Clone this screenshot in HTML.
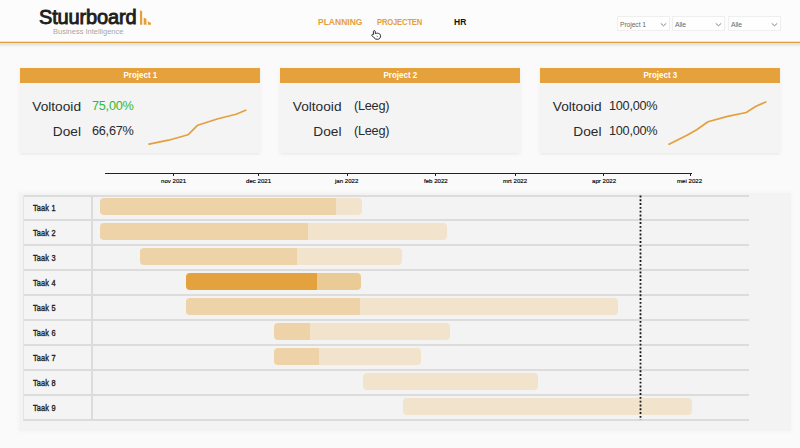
<!DOCTYPE html>
<html><head><meta charset="utf-8">
<style>
*{margin:0;padding:0;box-sizing:border-box}
html,body{width:800px;height:448px;overflow:hidden;background:#fafafa;font-family:"Liberation Sans",sans-serif;position:relative}
.a{position:absolute;white-space:nowrap}
#hdr{position:absolute;left:0;top:0;width:800px;height:42px;background:#fcfcfc}
#hline{position:absolute;left:0;top:42px;width:800px;height:1px;background:#e3a03c;box-shadow:0 -0.5px 0 #eec48a,0 0.6px 0 #e8b468}
#hshadow{position:absolute;left:0;top:43px;width:800px;height:4px;background:linear-gradient(#e2e4e8,#e8e9ec 50%,#fafafa)}
.nav{font-weight:bold;font-size:8.5px;top:16.5px}
.dd{position:absolute;top:16px;height:15px;border:1px solid #efefef;background:#fefefe}
.dd span{position:absolute;left:2px;top:4px;font-size:6.8px;color:#6a6a6a;letter-spacing:-0.1px}
.dd svg{position:absolute;top:5px}
.card{position:absolute;top:68px;width:240px;height:85px;background:#f4f4f4;box-shadow:0 1px 3px rgba(0,0,0,0.08)}
.ch{position:absolute;left:0;top:0;width:240px;height:15px;background:#e5a13b;color:#fff;font-weight:bold;font-size:8.7px;text-align:center;line-height:15px}
.ch span{display:inline-block;transform:scaleX(0.92)}
.lbl{font-size:13.7px;color:#2a2a2a}
.val{font-size:12.7px;color:#2a2a2a;letter-spacing:-0.25px}
#panel{position:absolute;left:19px;top:193px;width:772px;height:238px;background:#f3f3f3;box-shadow:0 0 3px 1px rgba(0,0,0,0.025)}
.rl{position:absolute;left:23px;width:726px;height:2px;background:#dcdcdc}
.tk{position:absolute;left:33px;font-size:8.4px;font-weight:normal;color:#1e1e1e;letter-spacing:0.15px;word-spacing:0.3px;-webkit-text-stroke:0.35px #1e1e1e;transform:scaleX(0.88);transform-origin:0 0}
.bar{position:absolute;height:17px;border-radius:4px;overflow:hidden}
.ax{font-size:6.1px;color:#000;top:177.3px;-webkit-text-stroke:0.15px #000}
.tick{position:absolute;top:173px;width:1px;height:3px;background:#222}
</style></head><body>
<div id="hdr"></div>
<div id="hline"></div>
<div id="hshadow"></div>

<!-- logo -->
<div class="a" style="left:39px;top:6px;font-size:20px;font-weight:normal;color:#1e1e1e;letter-spacing:-0.15px;-webkit-text-stroke:0.9px #1e1e1e">Stuurboard</div>
<svg class="a" style="left:139px;top:10px" width="14" height="16" viewBox="0 0 14 16">
<polygon points="1,0.3 3.2,1.3 3.2,14.8 1,14.8" fill="#e3a03c"/>
<polygon points="4.7,7.6 7.5,9 7.5,14.8 4.7,14.8" fill="#e3a03c"/>
<polygon points="8.9,11.2 12,13 12,14.8 8.9,14.8" fill="#e3a03c"/>
</svg>
<div class="a" style="left:53px;top:27px;font-size:7.5px;color:#8a8a8a;font-weight:normal;opacity:0.75">Business Intelligence</div>

<!-- nav -->
<div class="a nav" style="left:318px;color:#e3a03c">PLANNING</div>
<div class="a nav" style="left:377px;color:#e3a03c;letter-spacing:-0.2px;transform:scaleX(0.9);transform-origin:0 0">PROJECTEN</div>
<div class="a nav" style="left:454px;color:#111">HR</div>

<!-- dropdowns -->
<div class="dd" style="left:617px;width:53px"><span>Project 1</span><svg style="left:42px" width="8" height="5"><polyline points="0.8,1.4 3.5,3.8 6.2,1.4" fill="none" stroke="#666" stroke-width="0.8"/></svg></div>
<div class="dd" style="left:672px;width:53px"><span>Alle</span><svg style="left:42px" width="8" height="5"><polyline points="0.8,1.4 3.5,3.8 6.2,1.4" fill="none" stroke="#666" stroke-width="0.8"/></svg></div>
<div class="dd" style="left:728px;width:53px"><span>Alle</span><svg style="left:42px" width="8" height="5"><polyline points="0.8,1.4 3.5,3.8 6.2,1.4" fill="none" stroke="#666" stroke-width="0.8"/></svg></div>

<!-- cards -->
<div class="card" style="left:20px"><div class="ch"><span>Project 1</span></div></div>
<div class="card" style="left:280px"><div class="ch"><span>Project 2</span></div></div>
<div class="card" style="left:540px"><div class="ch"><span>Project 3</span></div></div>

<div class="a lbl" style="right:719px;top:98.5px">Voltooid</div>
<div class="a lbl" style="right:719px;top:123.5px">Doel</div>
<div class="a val" style="left:92px;top:98.5px;color:#33b833">75,00%</div>
<div class="a val" style="left:92px;top:123.5px">66,67%</div>

<div class="a lbl" style="right:458.5px;top:98.5px">Voltooid</div>
<div class="a lbl" style="right:458.5px;top:123.5px">Doel</div>
<div class="a val" style="left:354px;top:98.5px">(Leeg)</div>
<div class="a val" style="left:354px;top:123.5px">(Leeg)</div>

<div class="a lbl" style="right:198.5px;top:98.5px">Voltooid</div>
<div class="a lbl" style="right:198.5px;top:123.5px">Doel</div>
<div class="a val" style="left:609px;top:98.5px">100,00%</div>
<div class="a val" style="left:609px;top:123.5px">100,00%</div>

<svg class="a" style="left:0;top:0" width="800" height="448">
<polyline points="149,144.2 168.5,140.2 188,134.8 197.7,125.2 218,118.7 236,114.2 245.7,110.2" fill="none" stroke="#e3a03c" stroke-width="1.7" stroke-linejoin="round" stroke-linecap="round"/>
<polyline points="669,144.2 687,135.2 696.7,129.8 708,121.7 727.5,116.4 746.2,112.5 756,106.2 765.7,102" fill="none" stroke="#e3a03c" stroke-width="1.7" stroke-linejoin="round" stroke-linecap="round"/>
</svg>

<!-- gantt panel -->
<div id="panel"></div>
<!-- axis -->
<div class="a" style="left:105px;top:172.6px;width:587px;height:1.2px;background:#222"></div>
<div class="tick" style="left:173px"></div>
<div class="tick" style="left:258px"></div>
<div class="tick" style="left:347px"></div>
<div class="tick" style="left:435px"></div>
<div class="tick" style="left:515px"></div>
<div class="tick" style="left:603px"></div>
<div class="tick" style="left:690px"></div>
<div class="a ax" style="left:161px">nov 2021</div>
<div class="a ax" style="left:246px">dec 2021</div>
<div class="a ax" style="left:335px">jan 2022</div>
<div class="a ax" style="left:424px">feb 2022</div>
<div class="a ax" style="left:503px">mrt 2022</div>
<div class="a ax" style="left:592px">apr 2022</div>
<div class="a ax" style="left:677px">mei 2022</div>

<!-- rows -->
<div class="a" style="left:23px;top:195px;width:69px;height:225px;background:#f4f4f4"></div>
<div class="rl" style="top:194.5px"></div>
<div class="rl" style="top:219px"></div>
<div class="rl" style="top:244px"></div>
<div class="rl" style="top:269px"></div>
<div class="rl" style="top:294px"></div>
<div class="rl" style="top:319px"></div>
<div class="rl" style="top:344px"></div>
<div class="rl" style="top:369px"></div>
<div class="rl" style="top:394px"></div>
<div class="rl" style="top:419px"></div>
<div class="a" style="left:91px;top:195px;width:2px;height:225px;background:#dcdcdc"></div>
<div class="a" style="left:23px;top:195px;width:1px;height:225px;background:#e4e4e4"></div>

<div class="tk" style="top:203.0px">Taak 1</div>
<div class="tk" style="top:228.0px">Taak 2</div>
<div class="tk" style="top:253.0px">Taak 3</div>
<div class="tk" style="top:278.0px">Taak 4</div>
<div class="tk" style="top:303.0px">Taak 5</div>
<div class="tk" style="top:328.0px">Taak 6</div>
<div class="tk" style="top:353.0px">Taak 7</div>
<div class="tk" style="top:378.0px">Taak 8</div>
<div class="tk" style="top:403.0px">Taak 9</div>

<div class="bar" style="left:100px;top:198px;width:262px;background:linear-gradient(90deg,#eed3a8 0 236.5px,#f2e3cc 236.5px)"></div>
<div class="bar" style="left:100px;top:223px;width:346.5px;background:linear-gradient(90deg,#eed3a8 0 208px,#f2e3cc 208px)"></div>
<div class="bar" style="left:140px;top:248px;width:261.5px;background:linear-gradient(90deg,#eed3a8 0 157px,#f2e3cc 157px)"></div>
<div class="bar" style="left:186px;top:273px;width:175px;background:linear-gradient(90deg,#e3a23e 0 131.5px,#ebcb95 131.5px)"></div>
<div class="bar" style="left:186px;top:298px;width:432px;background:linear-gradient(90deg,#eed3a8 0 173.7px,#f2e3cc 173.7px)"></div>
<div class="bar" style="left:274px;top:323px;width:176px;background:linear-gradient(90deg,#eed3a8 0 36.3px,#f2e3cc 36.3px)"></div>
<div class="bar" style="left:274px;top:348px;width:147px;background:linear-gradient(90deg,#eed3a8 0 45.2px,#f2e3cc 45.2px)"></div>
<div class="bar" style="left:363px;top:373px;width:175px;background:#f2e3cc"></div>
<div class="bar" style="left:403px;top:398px;width:289px;background:#f2e3cc"></div>

<!-- today line -->
<svg class="a" style="left:639px;top:195px" width="3" height="225"><line x1="1.5" y1="0.5" x2="1.5" y2="225" stroke="#1a1a1a" stroke-width="1.8" stroke-dasharray="1.9,1.9"/></svg>

<!-- cursor -->
<svg class="a" style="left:371.3px;top:30.3px" width="11" height="11" viewBox="0 0 11 11">
<path d="M2.4,4.6 L2.4,1.4 C2.4,0.4 4.3,0.4 4.3,1.4 L4.3,3.6 C5.6,3.1 7.6,3.1 8.6,3.9 C9.4,4.6 9.6,5.6 9.4,6.9 C9.1,8.4 8.1,9.3 6.4,9.3 C4.9,9.3 3.9,8.8 3.1,7.8 L0.9,5.6 C0.4,5.1 1,4.3 1.7,4.6 Z" fill="#fff" stroke="#1a1a1a" stroke-width="0.95" stroke-linejoin="round"/>
<path d="M5.5,6 L7,6.6" stroke="#777" stroke-width="0.8"/>
</svg>
</body></html>
